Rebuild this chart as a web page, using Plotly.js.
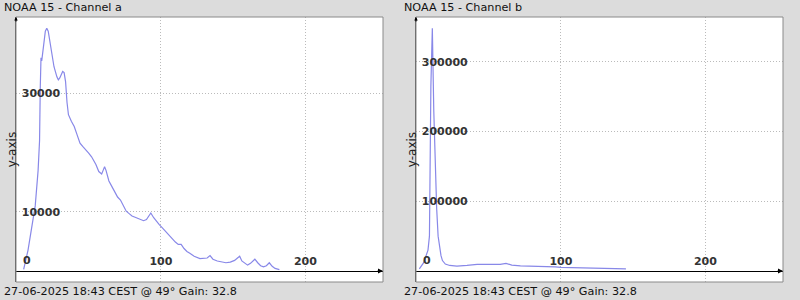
<!DOCTYPE html>
<html>
<head>
<meta charset="utf-8">
<script src="https://cdn.plot.ly/plotly-3.0.1.min.js"></script>
<style>
html,body{margin:0;padding:0;background:#dcdcdc;}
#chart{width:800px;height:300px;}
</style>
</head>
<body>
<div id="chart"></div>
<script>
// Channel a histogram
const chanA_x = [5, 8, 11, 13, 15, 16, 16.5, 17, 17.5, 18, 19, 20, 21, 22, 23, 24, 26, 28, 29, 30, 31, 32, 33, 34, 35, 36, 38, 40, 42, 44, 46, 48, 50, 52, 55, 57, 59, 60, 61, 62, 64, 66, 68, 70, 72, 74, 76, 78, 80, 83, 86, 88, 90, 92, 93, 95, 97, 99, 101, 104, 106, 108, 110, 112, 114, 116, 118, 120, 123, 127, 130, 132, 134, 136, 139, 142, 145, 148, 151, 153, 154.5, 156, 158, 160, 162, 164, 165, 167, 169, 171, 173, 175, 177, 179, 182];
const chanA_y = [300, 3500, 8000, 11000, 17000, 22000, 31000, 36000, 35500, 37000, 38500, 40500, 41000, 40500, 39000, 37000, 34500, 32800, 32300, 32600, 33300, 33700, 33500, 32000, 28500, 26400, 25300, 24400, 23000, 21600, 21000, 20500, 19900, 19300, 18000, 16800, 16400, 17000, 17600, 17000, 15200, 14300, 13400, 12500, 12000, 11000, 10100, 9700, 9300, 9000, 8700, 8500, 8700, 9400, 9800, 9000, 8300, 7800, 7300, 6500, 5800, 5300, 4900, 4500, 4500, 3800, 3300, 3000, 2500, 2100, 2100, 2200, 2600, 2000, 1700, 1500, 1400, 1500, 1800, 2200, 2500, 1700, 1300, 1000, 1300, 1800, 2000, 1400, 900, 700, 900, 1400, 800, 450, 250];

// Channel b histogram
const chanB_x = [2, 5, 8, 9, 10, 11, 12, 13, 14, 15, 16, 17, 18, 20, 23, 28, 35, 42, 50, 58, 62, 66, 72, 80, 90, 96, 100, 106, 112, 118, 124, 130, 136, 140, 145];
const chanB_y = [3000, 12000, 30000, 50000, 265000, 348000, 230000, 150000, 90000, 50000, 32000, 22000, 15000, 10000, 8000, 7000, 8000, 9500, 9600, 9600, 11000, 8500, 7500, 7200, 7100, 6000, 5200, 4800, 4500, 4200, 3800, 3400, 3300, 3200, 3000];

const titles = ["NOAA 15 - Channel a", "NOAA 15 - Channel b"];
const footer = "27-06-2025 18:43 CEST @ 49\u00b0 Gain: 32.8";
const xTickVals = [0, 100, 200];
const xTickText = ["", "100", "200"];
const xZeroLabel = "0";
const yTicksA = [10000, 30000];
const yTicksB = [100000, 200000, 300000];

const xRange = [-0.3, 253.7];
const yRangeA = [-1850, 42900];
const yRangeB = [-15700, 364000];

const lineColor = "rgb(136,136,232)";
const gridColor = "#bbbbbb";
const tickFont = {family: "DejaVu Sans", size: 11, color: "#333333", weight: "bold"};

function xAxis(dom, yr) {
  const pos = (0 - yr[0]) / (yr[1] - yr[0]);
  return {
    domain: dom, range: xRange, anchor: "free",
    position: pos,
    showline: true, linecolor: "#000000", linewidth: 1,
    showgrid: true, gridcolor: gridColor, griddash: "1px,2px", gridwidth: 1,
    zeroline: false,
    tickvals: xTickVals, ticktext: xTickText,
    ticklabelposition: "inside", ticklabeloverflow: "allow", ticklabelstandoff: 3, ticks: "",
    tickfont: tickFont, fixedrange: true
  };
}
function yAxis(anchor, yr, tv) {
  return {
    domain: [0, 1], range: yr, anchor: anchor,
    showline: true, linecolor: "#555555", linewidth: 1,
    showgrid: true, gridcolor: gridColor, griddash: "1px,2px", gridwidth: 1,
    zeroline: false,
    tickvals: tv, tickformat: "d", ticklabelposition: "inside", ticklabelstandoff: 5, ticks: "",
    tickfont: tickFont,
    title: {text: "y-axis", font: {family: "DejaVu Sans", size: 12, color: "#222"}, standoff: 2},
    fixedrange: true
  };
}

const traces = [
  {x: chanA_x, y: chanA_y, xaxis: "x", yaxis: "y", type: "scatter", mode: "lines",
   line: {color: lineColor, width: 1.2}, hoverinfo: "skip"},
  {x: chanB_x, y: chanB_y, xaxis: "x2", yaxis: "y2", type: "scatter", mode: "lines",
   line: {color: lineColor, width: 1.2}, hoverinfo: "skip"}
];

const domA = [16/800, 383/800];
const domB = [416/800, 783/800];

const textFont = {family: "DejaVu Sans", size: 11.2, color: "#111111"};
const layout = {
  width: 800, height: 300,
  margin: {l: 0, r: 0, t: 17, b: 18, pad: 0},
  paper_bgcolor: "#dcdcdc", plot_bgcolor: "#ffffff",
  showlegend: false,
  xaxis: xAxis(domA, yRangeA),
  yaxis: yAxis("x", yRangeA, yTicksA),
  xaxis2: xAxis(domB, yRangeB),
  yaxis2: yAxis("x2", yRangeB, yTicksB),
  shapes: [
    {type: "rect", xref: "x domain", yref: "y domain", x0: 0, x1: 1, y0: 0, y1: 1, line: {color: "#8a8a8a", width: 1}},
    {type: "rect", xref: "x2 domain", yref: "y2 domain", x0: 0, x1: 1, y0: 0, y1: 1, line: {color: "#8a8a8a", width: 1}}
  ],
  annotations: [
    {text: titles[0], xref: "paper", yref: "paper", x: 2/800, y: 1, yshift: 1, xanchor: "left", yanchor: "bottom", showarrow: false, font: textFont},
    {text: titles[1], xref: "paper", yref: "paper", x: 402/800, y: 1, yshift: 1, xanchor: "left", yanchor: "bottom", showarrow: false, font: textFont},
    {text: footer, xref: "paper", yref: "paper", x: 2/800, y: 0, yshift: -1, xanchor: "left", yanchor: "top", showarrow: false, font: textFont},
    {text: footer, xref: "paper", yref: "paper", x: 402/800, y: 0, yshift: -1, xanchor: "left", yanchor: "top", showarrow: false, font: textFont},
    {text: xZeroLabel, xref: "x", yref: "y", x: 0, y: 0, xanchor: "left", yanchor: "middle", xshift: 5, yshift: 11, showarrow: false, font: tickFont},
    {text: xZeroLabel, xref: "x2", yref: "y2", x: 0, y: 0, xanchor: "left", yanchor: "middle", xshift: 5, yshift: 11, showarrow: false, font: tickFont},
    {text: "", xref: "x", yref: "y", x: xRange[1], y: 0, ax: -7, ay: 0, showarrow: true, arrowhead: 2, arrowsize: 1, arrowwidth: 1, arrowcolor: "#000"},
    {text: "", xref: "x2", yref: "y2", x: xRange[1], y: 0, ax: -7, ay: 0, showarrow: true, arrowhead: 2, arrowsize: 1, arrowwidth: 1, arrowcolor: "#000"},
    {text: "", xref: "x", yref: "y", x: xRange[0], y: yRangeA[1], ax: 0, ay: 6, showarrow: true, arrowhead: 2, arrowsize: 0.7, arrowwidth: 1, arrowcolor: "#000"},
    {text: "", xref: "x2", yref: "y2", x: xRange[0], y: yRangeB[1], ax: 0, ay: 6, showarrow: true, arrowhead: 2, arrowsize: 0.7, arrowwidth: 1, arrowcolor: "#000"}
  ]
};

Plotly.newPlot("chart", traces, layout, {displayModeBar: false, staticPlot: true});
</script>
</body>
</html>
